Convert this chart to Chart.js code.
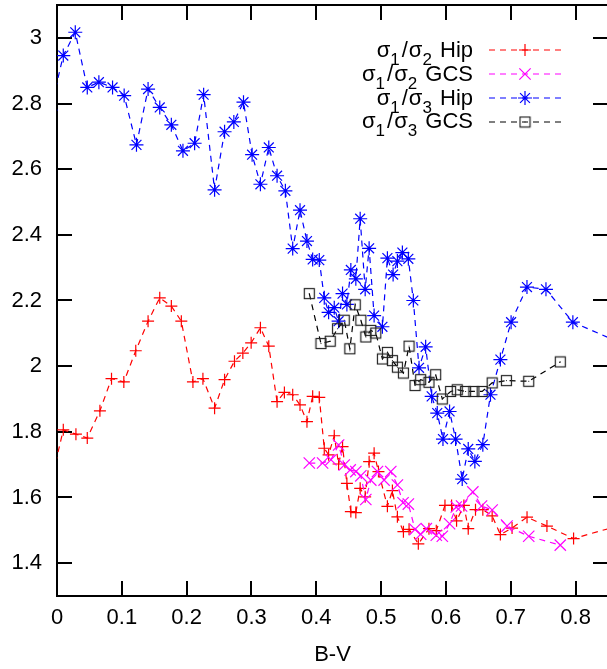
<!DOCTYPE html>
<html>
<head>
<meta charset="utf-8">
<script src="https://cdn.jsdelivr.net/npm/chart.js@4"></script>
<style>
html, body { margin: 0; padding: 0; overflow: hidden; background: #fff; }
canvas { display: block; }
</style>
</head>
<body>
<canvas id="chart" width="612" height="669"></canvas>
<script>
// tick values
const xTicks = [0, 0.1, 0.2, 0.3, 0.4, 0.5, 0.6, 0.7, 0.8];
const yTicks = [1.4, 1.6, 1.8, 2.0, 2.2, 2.4, 2.6, 2.8, 3.0];

// sigma1/sigma2 Hip (red +)
const hip12X = [-0.01, 0.0097, 0.0292, 0.0467, 0.0662, 0.0841, 0.1031, 0.1215, 0.1405, 0.1585, 0.1764, 0.1918, 0.2097, 0.2251, 0.2431, 0.2585, 0.2738, 0.2867, 0.2995, 0.3138, 0.3267, 0.3395, 0.3508, 0.3636, 0.3749, 0.3856, 0.3944, 0.4046, 0.4123, 0.4190, 0.4277, 0.4344, 0.4405, 0.4472, 0.4533, 0.4610, 0.4677, 0.4754, 0.4815, 0.4892, 0.4959, 0.5097, 0.5174, 0.5251, 0.5344, 0.5431, 0.5574, 0.5738, 0.5851, 0.5985, 0.6087, 0.6164, 0.6277, 0.6344, 0.6456, 0.6569, 0.6713, 0.6840, 0.7020, 0.7251, 0.7558, 0.7969, 0.87];
const hip12Y = [1.64, 1.806, 1.793, 1.781, 1.864, 1.962, 1.952, 2.047, 2.137, 2.208, 2.183, 2.137, 1.952, 1.962, 1.872, 1.959, 2.015, 2.040, 2.071, 2.117, 2.061, 1.892, 1.920, 1.913, 1.882, 1.831, 1.908, 1.905, 1.750, 1.730, 1.788, 1.702, 1.755, 1.643, 1.557, 1.554, 1.628, 1.602, 1.709, 1.735, 1.679, 1.573, 1.621, 1.541, 1.496, 1.503, 1.459, 1.505, 1.499, 1.576, 1.576, 1.529, 1.576, 1.505, 1.563, 1.563, 1.544, 1.487, 1.507, 1.540, 1.513, 1.475, 1.516];

// sigma1/sigma2 GCS (magenta x)
const gcs12X = [0.3892, 0.4097, 0.4226, 0.4344, 0.4431, 0.4523, 0.4610, 0.4687, 0.4764, 0.4841, 0.4944, 0.5046, 0.5149, 0.5251, 0.5338, 0.5420, 0.5523, 0.5610, 0.5697, 0.5851, 0.5944, 0.6056, 0.6159, 0.6241, 0.6415, 0.6549, 0.6713, 0.6943, 0.7277, 0.7764];
const gcs12Y = [1.705, 1.705, 1.715, 1.760, 1.699, 1.684, 1.679, 1.666, 1.594, 1.653, 1.679, 1.653, 1.679, 1.638, 1.584, 1.580, 1.503, 1.488, 1.505, 1.485, 1.482, 1.520, 1.571, 1.574, 1.617, 1.574, 1.562, 1.513, 1.482, 1.455];

// sigma1/sigma3 Hip (blue *)
const hip13X = [-0.01, 0.0097, 0.0282, 0.0467, 0.0646, 0.0857, 0.1036, 0.1226, 0.1405, 0.1585, 0.1764, 0.1943, 0.2123, 0.2262, 0.2431, 0.2585, 0.2728, 0.2877, 0.3010, 0.3138, 0.3267, 0.3395, 0.3523, 0.3636, 0.3749, 0.3856, 0.3944, 0.4046, 0.4123, 0.4190, 0.4277, 0.4344, 0.4405, 0.4472, 0.4533, 0.4610, 0.4677, 0.4754, 0.4815, 0.4892, 0.5020, 0.5097, 0.5185, 0.5251, 0.5328, 0.5420, 0.5497, 0.5585, 0.5687, 0.5780, 0.5866, 0.5954, 0.6056, 0.6149, 0.6251, 0.6344, 0.6446, 0.6569, 0.6687, 0.6840, 0.7005, 0.7250, 0.7543, 0.7958, 0.87];
const hip13Y = [2.78, 2.946, 3.017, 2.849, 2.865, 2.849, 2.824, 2.674, 2.844, 2.788, 2.735, 2.656, 2.679, 2.827, 2.537, 2.714, 2.744, 2.804, 2.644, 2.554, 2.666, 2.580, 2.534, 2.358, 2.475, 2.381, 2.325, 2.323, 2.208, 2.164, 2.178, 2.137, 2.221, 2.188, 2.293, 2.266, 2.449, 2.234, 2.359, 2.154, 2.120, 2.329, 2.279, 2.320, 2.346, 2.327, 2.200, 1.995, 2.059, 1.908, 1.857, 1.778, 1.862, 1.778, 1.656, 1.748, 1.710, 1.761, 1.913, 2.020, 2.134, 2.241, 2.234, 2.134, 2.07];

// sigma1/sigma3 GCS (black squares)
const gcs13X = [0.3892, 0.4072, 0.4215, 0.4328, 0.4431, 0.4518, 0.4600, 0.4687, 0.4764, 0.4841, 0.4918, 0.5020, 0.5097, 0.5174, 0.5251, 0.5344, 0.5431, 0.5523, 0.5610, 0.5738, 0.5841, 0.5944, 0.6072, 0.6174, 0.6303, 0.6431, 0.6559, 0.6713, 0.6933, 0.7277, 0.7764];
const gcs13Y = [2.221, 2.069, 2.076, 2.114, 2.140, 2.053, 2.187, 2.140, 2.089, 2.109, 2.101, 2.022, 2.042, 2.017, 1.997, 1.979, 2.061, 1.941, 1.959, 1.951, 1.974, 1.900, 1.923, 1.928, 1.923, 1.923, 1.923, 1.949, 1.956, 1.954, 2.013];

const FONT = 'Liberation Sans';

function pts(xs, ys) {
  return xs.map((v, i) => ({ x: v, y: ys[i] }));
}

// open square with a dot in the middle (gnuplot box point)
const boxPoint = document.createElement('canvas');
boxPoint.width = 13;
boxPoint.height = 13;
(function () {
  const c = boxPoint.getContext('2d');
  c.strokeStyle = '#222';
  c.lineWidth = 1.2;
  c.strokeRect(1.5, 1.5, 10, 10);
  c.fillStyle = '#222';
  c.fillRect(6, 6, 1, 1);
})();

function series(label, data, color, style, radius, order) {
  return {
    label: label,
    data: data,
    showLine: true,
    borderColor: color,
    backgroundColor: 'rgba(0,0,0,0)',
    borderWidth: 1.2,
    borderDash: [6, 5],
    pointStyle: style,
    pointRadius: radius,
    pointBorderWidth: 1.2,
    pointBorderColor: color,
    pointBackgroundColor: 'rgba(0,0,0,0)',
    order: order
  };
}

const datasets = [
  series('s12hip', pts(hip12X, hip12Y), '#ff0000', 'cross', 6, 3),
  series('s12gcs', pts(gcs12X, gcs12Y), '#ff00ff', 'crossRot', 8, 2),
  series('s13hip', pts(hip13X, hip13Y), '#0000ff', 'star', 7, 1),
  series('s13gcs', pts(gcs13X, gcs13Y), '#000000', boxPoint, 7, 0)
];

// border and inward ticks on all four sides, like gnuplot
const frame = {
  id: 'frame',
  beforeDatasetsDraw(chart) {
    const { ctx, chartArea: { left, right, top, bottom }, scales: { x, y } } = chart;
    ctx.save();
    ctx.strokeStyle = '#000';
    ctx.lineWidth = 2;
    ctx.beginPath();
    xTicks.forEach(v => {
      const px = Math.round(x.getPixelForValue(v));
      ctx.moveTo(px, bottom); ctx.lineTo(px, bottom - 15);
      ctx.moveTo(px, top); ctx.lineTo(px, top + 15);
    });
    yTicks.forEach(v => {
      const py = Math.round(y.getPixelForValue(v));
      ctx.moveTo(left, py); ctx.lineTo(left + 15, py);
      ctx.moveTo(right, py); ctx.lineTo(right - 15, py);
    });
    ctx.stroke();
    ctx.strokeRect(left, top, right - left, bottom - top);
    ctx.restore();
  }
};

// key with sub-scripted labels
const legendRows = [
  { a: '2', name: 'Hip', set: 0 },
  { a: '2', name: 'GCS', set: 1 },
  { a: '3', name: 'Hip', set: 2 },
  { a: '3', name: 'GCS', set: 3 }
];

const keyBox = {
  id: 'keyBox',
  afterDraw(chart) {
    const ctx = chart.ctx;
    const main = '22px "' + FONT + '"';
    const sub = '17px "' + FONT + '"';
    const textRight = 473;
    ctx.save();
    legendRows.forEach((row, i) => {
      const base = 56.7 + i * 23.9;
      // text, font, baseline shift, gap after
      const parts = [
        ['\u03c3', main, 0, 0], ['1', sub, 8, 2], ['/', main, 0, 1],
        ['\u03c3', main, 0, 0], [row.a, sub, 8, 2], [' ' + row.name, main, 0, 0]
      ];
      let w = 0;
      parts.forEach(p => { ctx.font = p[1]; w += ctx.measureText(p[0]).width + p[3]; });
      let cx = textRight - w;
      ctx.fillStyle = '#000';
      ctx.textBaseline = 'alphabetic';
      ctx.textAlign = 'left';
      parts.forEach(p => {
        ctx.font = p[1];
        ctx.fillText(p[0], cx, base + p[2]);
        cx += ctx.measureText(p[0]).width + p[3];
      });

      const ds = chart.data.datasets[row.set];
      const ly = Math.round(base - 6.5);
      ctx.strokeStyle = ds.borderColor;
      ctx.lineWidth = 1.2;
      ctx.setLineDash([6, 5]);
      ctx.beginPath();
      ctx.moveTo(489, ly);
      ctx.lineTo(562, ly);
      ctx.stroke();
      ctx.setLineDash([]);
      ctx.fillStyle = 'rgba(0,0,0,0)';
      Chart.helpers.drawPoint(ctx, {
        pointStyle: ds.pointStyle, radius: ds.pointRadius, rotation: 0, borderWidth: 1.2
      }, 525, ly);
    });
    ctx.restore();
  }
};

const fmt = v => String(Number(v.toFixed(2)));

new Chart(document.getElementById('chart'), {
  type: 'scatter',
  data: { datasets },
  options: {
    responsive: false,
    animation: false,
    devicePixelRatio: 1,
    events: [],
    layout: { autoPadding: false, padding: { top: 5, right: 4, left: 0, bottom: 0 } },
    plugins: { legend: { display: false }, tooltip: { enabled: false } },
    scales: {
      x: {
        type: 'linear',
        min: 0,
        max: 0.85,
        afterBuildTicks: s => { s.ticks = xTicks.map(v => ({ value: v })); },
        afterFit: s => { s.height = 73; s.paddingLeft = 0; s.paddingRight = 0; },
        grid: { display: false, drawTicks: false },
        border: { display: false },
        ticks: { color: '#000', padding: 9, maxRotation: 0, font: { family: FONT, size: 22 }, callback: fmt },
        title: { display: true, text: 'B-V', color: '#000', font: { family: FONT, size: 22 }, padding: { top: 0, bottom: 1 } }
      },
      y: {
        type: 'linear',
        min: 1.3,
        max: 3.1,
        afterBuildTicks: s => { s.ticks = yTicks.map(v => ({ value: v })); },
        afterFit: s => { s.width = 57; s.paddingTop = 0; s.paddingBottom = 0; },
        grid: { display: false, drawTicks: false },
        border: { display: false },
        ticks: { color: '#000', padding: 15, font: { family: FONT, size: 22 }, callback: fmt }
      }
    }
  },
  plugins: [frame, keyBox]
});
</script>
</body>
</html>
